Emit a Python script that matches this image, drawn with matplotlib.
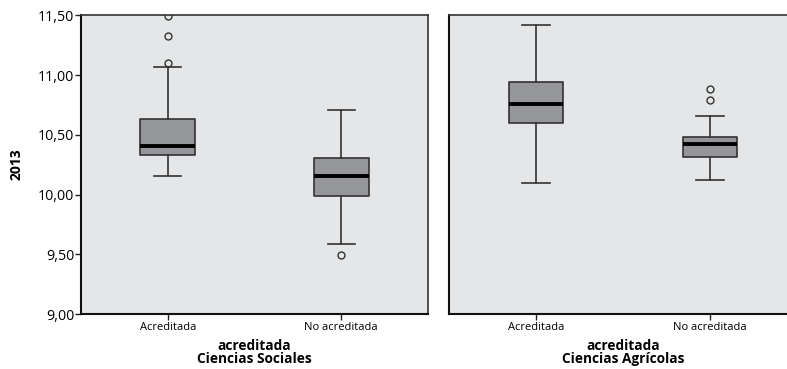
import matplotlib
matplotlib.use("Agg")
import matplotlib.pyplot as plt

plt.rcParams['font.family'] = ['Open Sans', 'DejaVu Sans']

# Box-plot summaries for the 2013 scores
groups = ["Acreditada", "No acreditada"]

sociales_q1 = [10.33, 9.99]
sociales_med = [10.41, 10.155]
sociales_q3 = [10.63, 10.305]
sociales_lo = [10.155, 9.585]
sociales_hi = [11.07, 10.71]
sociales_out = [[11.497, 11.33, 11.10], [9.49]]

agricolas_q1 = [10.595, 10.315]
agricolas_med = [10.76, 10.425]
agricolas_q3 = [10.945, 10.485]
agricolas_lo = [10.095, 10.12]
agricolas_hi = [11.415, 10.66]
agricolas_out = [[], [10.88, 10.79]]

y_ticks = [9.0, 9.5, 10.0, 10.5, 11.0, 11.5]
y_tick_labels = ["9,00", "9,50", "10,00", "10,50", "11,00", "11,50"]

BG = "#e5e6e7"
BOX = "#959699"
EDGE = "#333333"


def stats(q1, med, q3, lo, hi, out):
    return [dict(q1=a, med=b, q3=c, whislo=d, whishi=e, fliers=f, label=g)
            for a, b, c, d, e, f, g in zip(q1, med, q3, lo, hi, out, groups)]


fig = plt.figure(figsize=(7.87, 3.69), dpi=100)
W, H = 787.0, 369.0
ax1 = fig.add_axes([81 / W, (H - 314) / H, 347 / W, 298.7 / H])
ax2 = fig.add_axes([449 / W, (H - 314) / H, 348 / W, 298.7 / H])

panels = [
    (ax1, stats(sociales_q1, sociales_med, sociales_q3, sociales_lo, sociales_hi, sociales_out),
     "acreditada\nCiencias Sociales"),
    (ax2, stats(agricolas_q1, agricolas_med, agricolas_q3, agricolas_lo, agricolas_hi, agricolas_out),
     "acreditada\nCiencias Agrícolas"),
]

for ax, st, xlabel in panels:
    ax.set_facecolor(BG)
    ax.bxp(st, positions=[1, 2], widths=0.315, capwidths=0.157,
           patch_artist=True, showfliers=True,
           boxprops=dict(facecolor=BOX, edgecolor=EDGE, linewidth=1.2, joinstyle="round"),
           medianprops=dict(color="black", linewidth=2.8, solid_capstyle="butt"),
           whiskerprops=dict(color=EDGE, linewidth=1.2),
           capprops=dict(color=EDGE, linewidth=1.2),
           flierprops=dict(marker="o", markersize=5, markerfacecolor="none",
                           markeredgecolor=EDGE, markeredgewidth=1.0))
    ax.set_xlim(0.5, 2.5)
    ax.set_ylim(9.0, 11.5)
    ax.set_xticks([1, 2])
    ax.set_xticklabels(groups, fontsize=8)
    ax.tick_params(axis="x", length=4, width=1.0, color="#222222", pad=2)
    ax.set_xlabel(xlabel, fontsize=9.8, fontweight="bold", linespacing=0.95, labelpad=4)
    for side in ("left", "bottom"):
        ax.spines[side].set_color("#111111")
        ax.spines[side].set_linewidth(1.5)
    for side in ("top", "right"):
        ax.spines[side].set_color("#333333")
        ax.spines[side].set_linewidth(1.2)
    ax.spines["top"].set_zorder(5)

ax1.set_yticks(y_ticks)
ax1.set_yticklabels(y_tick_labels, fontsize=10.3)
ax1.tick_params(axis="y", length=4, width=1.0, color="#222222", pad=1)
ax1.set_ylabel("2013", fontsize=10, fontweight="bold", labelpad=10)

ax2.set_yticks([])
ax2.spines["right"].set_visible(False)

fig.savefig("out.png", dpi=100)
